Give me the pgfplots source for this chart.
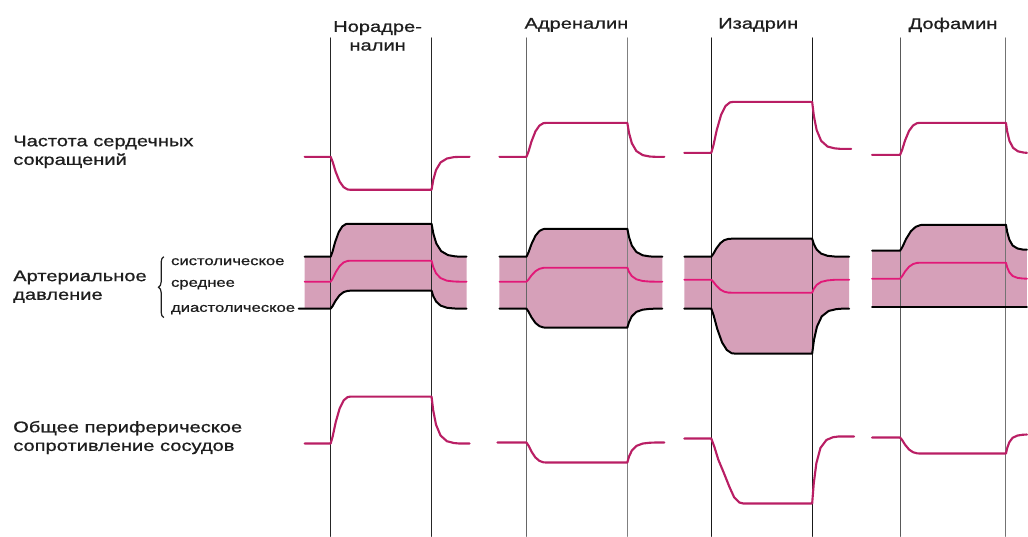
\documentclass[border=0pt]{standalone}
\usepackage{fontspec}
\usepackage{pgfplots}
\pgfplotsset{compat=1.18}
\usepgfplotslibrary{fillbetween}
\usetikzlibrary{decorations.pathreplacing}
\newfontfamily\lab[FakeStretch=1.3, FakeBold=0.8]{Liberation Sans}
\definecolor{hr}{RGB}{185,30,100}
\definecolor{meanc}{RGB}{225,25,120}
\definecolor{band}{RGB}{214,160,185}
\definecolor{txt}{RGB}{30,30,30}
\begin{document}
\begin{tikzpicture}
\begin{axis}[
    width=771pt, height=402.75pt, scale only axis,
    xmin=0, xmax=1028, ymin=0, ymax=537, y dir=reverse,
    hide axis, clip=false, set layers,
    every axis plot/.append style={line join=round, line cap=round},
]
\path (rel axis cs:0,0) rectangle (rel axis cs:1,1);

% ---- blood pressure bands (systolic / diastolic paths)
\addplot[draw=none, forget plot, name path=s1] coordinates {(305,257) (331,257) (332.8,252.1) (335.5,242.2) (339.1,232.3) (342.7,226.6) (346.3,224.3) (349,224) (432,224) (433.8,233.9) (436.8,243.8) (441.6,251.4) (448.5,255.4) (456,256.7) (462,257) (467,257)};
\addplot[draw=none, forget plot, name path=d1] coordinates {(305,309) (331,309) (333,306.3) (336,300.9) (340,295.5) (344,292.4) (348,291.2) (351,291) (432,291) (433.7,296.4) (436.5,301.8) (441,305.9) (447.4,308.1) (454.4,308.8) (460,309) (467,309)};
\addplot[band, draw=none] fill between[of=s1 and d1];

\addplot[draw=none, forget plot, name path=s2] coordinates {(500,257) (527,257) (529,252.8) (532,244.4) (536,236) (540,231.2) (544,229.3) (547,229) (628,229) (629.7,237.4) (632.5,245.8) (637,252.2) (643.4,255.6) (650.4,256.7) (656,257) (663,257)};
\addplot[draw=none, forget plot, name path=d2] coordinates {(500,309) (527,309) (529,311.9) (532,317.6) (536,323.3) (540,326.5) (544,327.8) (547,328) (628,328) (629.7,322.3) (632.5,316.6) (637,312.2) (643.4,310) (650.4,309.2) (656,309) (663,309)};
\addplot[band, draw=none] fill between[of=s2 and d2];

\addplot[draw=none, forget plot, name path=s3] coordinates {(685,257) (712,257) (714,254.3) (717,248.9) (721,243.5) (725,240.4) (729,239.2) (732,239) (813,239) (814.7,244.4) (817.5,249.8) (822,253.9) (828.4,256.1) (835.4,256.8) (841,257) (850,257)};
\addplot[draw=none, forget plot, name path=d3] coordinates {(685,309) (712,309) (714.4,315.8) (718,329.3) (722.8,342.8) (727.6,350.4) (732.4,353.6) (736,354) (813,354) (814.8,340.5) (817.8,327) (822.6,316.7) (829.5,311.3) (837,309.5) (843,309) (850,309)};
\addplot[band, draw=none] fill between[of=s3 and d3];

\addplot[draw=none, forget plot, name path=s4] coordinates {(873,251) (901,251) (903.4,247.1) (907,239.3) (911.8,231.5) (916.6,227.1) (921.4,225.3) (925,225) (1007,225) (1008.3,232.5) (1010.4,240) (1013.7,245.8) (1018.6,248.8) (1023.8,249.8) (1028,250)};
\addplot[draw=none, forget plot, name path=d4] coordinates {(873,307) (901,307) (1007,307) (1028,307)};
\addplot[band, draw=none] fill between[of=s4 and d4];

% ---- vertical markers (start / end of infusion)
\addplot[black!85, line width=0.7pt] coordinates {(331,38) (331,537)};
\addplot[black!85, line width=0.7pt] coordinates {(432,38) (432,537)};
\addplot[black!60, line width=0.7pt] coordinates {(527,38) (527,537)};
\addplot[black!50, line width=0.7pt] coordinates {(628,38) (628,537)};
\addplot[black!90, line width=0.7pt] coordinates {(712,38) (712,537)};
\addplot[black!90, line width=0.7pt] coordinates {(813,38) (813,537)};
\addplot[black!65, line width=0.7pt] coordinates {(901,38) (901,537)};
\addplot[black!55, line width=0.7pt] coordinates {(1007,38) (1007,537)};

% ---- heart rate
\addplot[hr, line width=1.6pt] coordinates {(305,157) (331,157) (333,162) (336,171.9) (340,181.8) (344,187.4) (348,189.7) (351,190) (432,190) (433.7,180.1) (436.5,170.2) (441,162.6) (447.4,158.7) (454.4,157.3) (460,157) (470,157)};
\addplot[hr, line width=1.6pt] coordinates {(500,157) (527,157) (529,151.9) (532,141.7) (536,131.5) (540,125.7) (544,123.3) (547,123) (628,123) (629.7,133.2) (632.5,143.4) (637,151.2) (643.4,155.3) (650.4,156.7) (656,157) (665,157)};
\addplot[hr, line width=1.6pt] coordinates {(685,153) (712,153) (714.2,145.4) (717.5,130.1) (721.9,114.8) (726.3,106.1) (730.7,102.5) (734,102) (813,102) (814.7,116.1) (817.5,130.2) (822,141) (828.4,146.7) (835.4,148.5) (841,149) (852,149)};
\addplot[hr, line width=1.6pt] coordinates {(873,155) (901,155) (903,150.2) (906,140.6) (910,131) (914,125.6) (918,123.3) (921,123) (1007,123) (1008.3,132) (1010.5,141) (1014,147.9) (1019,151.5) (1024.6,152.7) (1028,153)};

% ---- systolic / diastolic (black) and mean (magenta)
\addplot[black, line width=1.5pt] coordinates {(305,257) (331,257) (332.8,252.1) (335.5,242.2) (339.1,232.3) (342.7,226.6) (346.3,224.3) (349,224) (432,224) (433.8,233.9) (436.8,243.8) (441.6,251.4) (448.5,255.4) (456,256.7) (462,257) (467,257)};
\addplot[black, line width=1.5pt] coordinates {(299,309) (331,309) (333,306.3) (336,300.9) (340,295.5) (344,292.4) (348,291.2) (351,291) (432,291) (433.7,296.4) (436.5,301.8) (441,305.9) (447.4,308.1) (454.4,308.8) (460,309) (467,309)};
\addplot[meanc, line width=1.4pt] coordinates {(305,282) (331,282) (333,278.9) (336,272.6) (340,266.3) (344,262.7) (348,261.2) (351,261) (432,261) (433.7,267.3) (436.5,273.6) (441,278.4) (447.4,281) (454.4,281.8) (460,282) (467,282)};

\addplot[black, line width=1.5pt] coordinates {(500,257) (527,257) (529,252.8) (532,244.4) (536,236) (540,231.2) (544,229.3) (547,229) (628,229) (629.7,237.4) (632.5,245.8) (637,252.2) (643.4,255.6) (650.4,256.7) (656,257) (663,257)};
\addplot[black, line width=1.5pt] coordinates {(500,309) (527,309) (529,311.9) (532,317.6) (536,323.3) (540,326.5) (544,327.8) (547,328) (628,328) (629.7,322.3) (632.5,316.6) (637,312.2) (643.4,310) (650.4,309.2) (656,309) (663,309)};
\addplot[meanc, line width=1.4pt] coordinates {(500,282) (527,282) (529,279.9) (532,275.7) (536,271.5) (540,269.1) (544,268.1) (547,268) (628,268) (629.7,272.2) (632.5,276.4) (637,279.6) (643.4,281.3) (650.4,281.9) (656,282) (663,282)};

\addplot[black, line width=1.5pt] coordinates {(685,257) (712,257) (714,254.3) (717,248.9) (721,243.5) (725,240.4) (729,239.2) (732,239) (813,239) (814.7,244.4) (817.5,249.8) (822,253.9) (828.4,256.1) (835.4,256.8) (841,257) (850,257)};
\addplot[black, line width=1.5pt] coordinates {(685,309) (712,309) (714.4,315.8) (718,329.3) (722.8,342.8) (727.6,350.4) (732.4,353.6) (736,354) (813,354) (814.8,340.5) (817.8,327) (822.6,316.7) (829.5,311.3) (837,309.5) (843,309) (850,309)};
\addplot[meanc, line width=1.4pt] coordinates {(685,280) (712,280) (714,282) (717,285.9) (721,289.8) (725,292) (729,292.9) (732,293) (813,293) (814.7,289.1) (817.5,285.2) (822,282.2) (828.4,280.7) (835.4,280.1) (841,280) (850,280)};

\addplot[black, line width=1.5pt] coordinates {(873,251) (901,251) (903.4,247.1) (907,239.3) (911.8,231.5) (916.6,227.1) (921.4,225.3) (925,225) (1007,225) (1008.3,232.5) (1010.4,240) (1013.7,245.8) (1018.6,248.8) (1023.8,249.8) (1028,250)};
\addplot[black, line width=1.5pt] coordinates {(873,307) (901,307) (1007,307) (1028,307)};
\addplot[meanc, line width=1.4pt] coordinates {(873,279) (901,279) (903,276.6) (906,271.8) (910,267) (914,264.3) (918,263.2) (921,263) (1007,263) (1008.3,267.8) (1010.4,272.6) (1013.7,276.3) (1018.6,278.2) (1023.8,278.8) (1028,279)};

% ---- total peripheral resistance
\addplot[hr, line width=1.6pt] coordinates {(305,444) (331,444) (333,437) (336,422.9) (340,408.8) (344,400.8) (348,397.5) (351,397) (432,397) (433.7,411.1) (436.5,425.2) (441,436) (447.4,441.7) (454.4,443.5) (460,444) (470,444)};
\addplot[hr, line width=1.6pt] coordinates {(498,443) (527,443) (529,446) (532,452) (536,458) (540,461.4) (544,462.8) (547,463) (628,463) (629.7,457) (632.5,451) (637,446.4) (643.4,444) (650.4,443.2) (656,443) (665,443)};
\addplot[hr, line width=1.6pt] coordinates {(685,439) (712,439) (715,447) (719,460) (724,472) (730,487) (735,498) (740,503) (744,504) (813,504) (814.6,483.9) (817.2,463.8) (821.3,448.4) (827.3,440.4) (833.8,437.7) (839,437) (855,437)};
\addplot[hr, line width=1.6pt] coordinates {(873,438) (901,438) (903,440.4) (906,445.2) (910,450) (914,452.7) (918,453.8) (921,454) (1007,454) (1008.3,448.3) (1010.4,442.6) (1013.7,438.2) (1018.6,436) (1023.8,435.2) (1028,435)};

% ---- texts
\tikzset{t/.style={font=\lab\fontsize{11.6pt}{14pt}\selectfont, text=txt, inner sep=0pt}}
\tikzset{s/.style={font=\lab\fontsize{9.6pt}{11pt}\selectfont, text=txt, inner sep=0pt, anchor=west}}
\node[t, align=center] at (axis cs:378,36) {Норадре-\\налин};
\node[t] at (axis cs:577,25) {Адреналин};
\node[t] at (axis cs:759,25) {Изадрин};
\node[t] at (axis cs:954,25) {Дофамин};
\node[t, align=left, anchor=west] at (axis cs:13,152) {Частота сердечных\\сокращений};
\node[t, align=left, anchor=west] at (axis cs:13,287) {Артериальное\\давление};
\node[t, align=left, anchor=west] at (axis cs:13,438) {Общее периферическое\\сопротивление сосудов};
\node[s] at (axis cs:171,262) {систолическое};
\node[s] at (axis cs:171,285) {среднее};
\node[s] at (axis cs:171,310) {диастолическое};
\draw[txt, line width=0.9pt, decorate, decoration={brace, amplitude=4pt}] (axis cs:164,318) -- (axis cs:164,257);
\end{axis}
\end{tikzpicture}
\end{document}
